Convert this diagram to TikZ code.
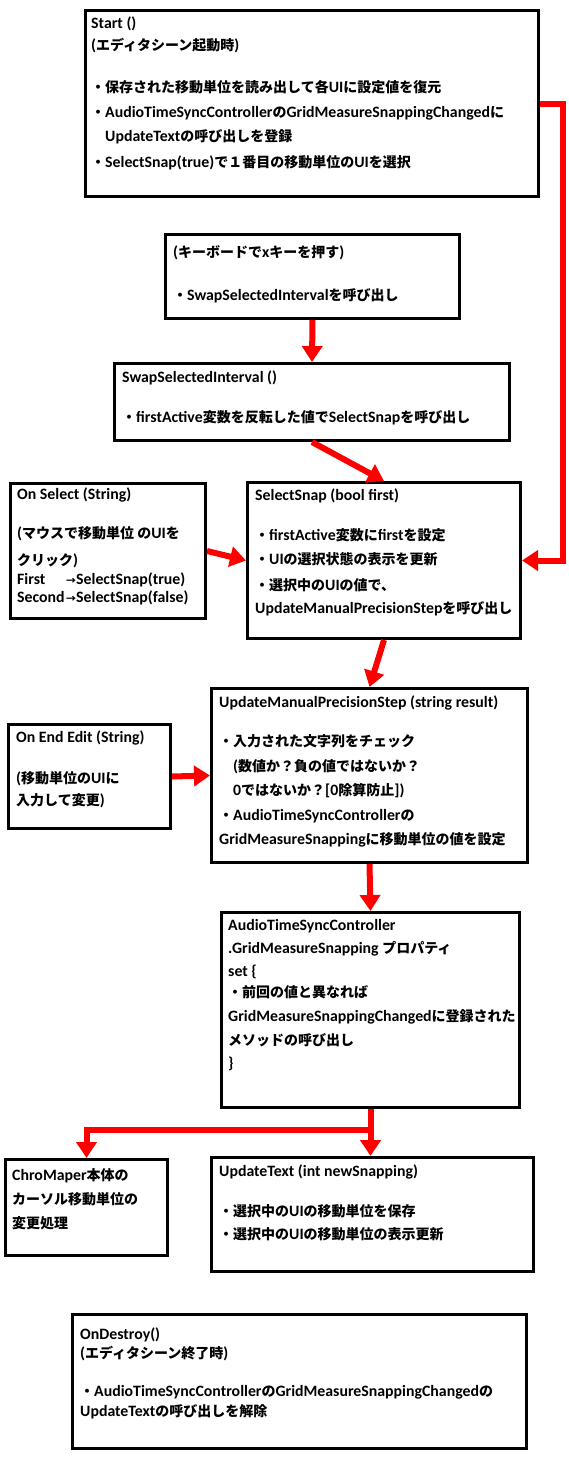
\documentclass[tikz,border=0pt]{standalone}
\usepackage{fontspec}
\setmainfont{Carlito}[Scale=1.13]
\newfontfamily\cjkfont{Noto Sans CJK JP}
\usetikzlibrary{arrows.meta}

% Japanische Zeichen mit Noto Sans CJK setzen
\XeTeXinterchartokenstate=1
\newXeTeXintercharclass\cjkclass
\newcount\cjkcode
\def\cjkrange#1#2{\cjkcode=#1
  \loop\XeTeXcharclass\cjkcode=\cjkclass
  \ifnum\cjkcode<#2 \advance\cjkcode by 1 \repeat}
\cjkrange{"3000}{"30FF}
\cjkrange{"4E00}{"9FFF}
\cjkrange{"FF00}{"FFEF}
\XeTeXcharclass"2192=\cjkclass
\XeTeXinterchartoks 0 \cjkclass = {\cjkfont}
\XeTeXinterchartoks 4095 \cjkclass = {\cjkfont}
\XeTeXinterchartoks \cjkclass 0 = {\rmfamily}
\XeTeXinterchartoks 4095 0 = {\rmfamily}

\begin{document}
\begin{tikzpicture}[x=1pt,y=-1pt,
                    box/.style={draw, line width=3pt, anchor=north west, inner sep=0pt},
                    txt/.style={anchor=base west, align=left, inner sep=0pt, font=\bfseries\fontsize{14}{24}\selectfont},
                    flow/.style={draw=red, line width=6pt, -{Triangle[length=16pt,width=20pt]}}]

                  \useasboundingbox (0,0) rectangle (569,1457);

                  % Kaesten
                  \node[box, minimum width=453, minimum height=186] (start) at (84,9) {};
                  \node[box, minimum width=294, minimum height=84] (key) at (164,233) {};
                  \node[box, minimum width=395, minimum height=77] (swap) at (113,362) {};
                  \node[box, minimum width=195, minimum height=135] (onsel) at (9,482) {};
                  \node[box, minimum width=273, minimum height=156] (snap) at (246,481) {};
                  \node[box, minimum width=316, minimum height=174] (umps) at (210,687) {};
                  \node[box, minimum width=162, minimum height=104] (onend) at (7,723) {};
                  \node[box, minimum width=298, minimum height=195] (atsc) at (220,911) {};
                  \node[box, minimum width=162, minimum height=96] (chro) at (4,1158) {};
                  \node[box, minimum width=322, minimum height=114] (uptext) at (210,1156) {};
                  \node[box, minimum width=454, minimum height=134] (ondes) at (71,1313) {};

                  % Texte (Position = Grundlinie der letzten Zeile)
                  \node[txt] (start-t) at (91,167) {Start ()\\[-2pt]
                      (エディタシーン起動時)\\[18pt]
                      ・保存された移動単位を読み出して各UIに設定値を復元\\[1pt]
                      ・AudioTimeSyncControllerのGridMeasureSnappingChangedに\\
                      　UpdateTextの呼び出しを登録\\[2pt]
                      ・SelectSnap(true)で１番目の移動単位のUIを選択};
                  \node[txt] (key-t) at (173,300) {(キーボードでxキーを押す)\\[19pt]
                      ・SwapSelectedIntervalを呼び出し};
                  \node[txt] (swap-t) at (122,422) {SwapSelectedInterval ()\\[16pt]
                      ・firstActive変数を反転した値でSelectSnapを呼び出し};
                  \node[txt] (onsel-t) at (17,602) {On Select (String)\\[15pt]
                      (マウスで移動単位 のUIを\\[3pt]
                      クリック)\\[-5pt]
                      \makebox[49pt][l]{First}{\fontsize{10}{10}\selectfont →}SelectSnap(true)\\[-6pt]
                      \makebox[49pt][l]{Second}{\fontsize{10}{10}\selectfont →}SelectSnap(false)};
                  \node[txt] (snap-t) at (255,613) {SelectSnap (bool first)\\[16pt]
                      ・firstActive変数にfirstを設定\\
                      ・UIの選択状態の表示を更新\\[2pt]
                      ・選択中のUIの値で、\\[-1pt]
                      UpdateManualPrecisionStepを呼び出し};
                  \node[txt] (umps-t) at (219,844) {UpdateManualPrecisionStep (string result)\\[15pt]
                      ・入力された文字列をチェック\\[1pt]
                      　(数値か？負の値ではないか？\\
                      　0ではないか？[0除算防止])\\[1pt]
                      ・AudioTimeSyncControllerの\\
                      GridMeasureSnappingに移動単位の値を設定};
                  \node[txt] (onend-t) at (16,805) {On End Edit (String)\\[17pt]
                      (移動単位のUIに\\[-2pt]
                      入力して変更)};
                  \node[txt] (atsc-t) at (228,1068) {AudioTimeSyncController\\[-1pt]
                      .GridMeasureSnapping プロパティ\\[-1pt]
                      set \{\\[-3pt]
                      ・前回の値と異なれば\\
                      GridMeasureSnappingChangedに登録された\\
                      メソッドの呼び出し\\[-1pt]
                      \}};
                  \node[txt] (chro-t) at (12,1228) {ChroMaper本体の\\
                      カーソル移動単位の\\
                      変更処理};
                  \node[txt] (uptext-t) at (219,1239) {UpdateText (int newSnapping)\\[16pt]
                      ・選択中のUIの移動単位を保存\\[-1pt]
                      ・選択中のUIの移動単位の表示更新};
                  \node[txt] (ondes-t) at (80,1416) {OnDestroy()\\[-5pt]
                      (エディタシーン終了時)\\[14pt]
                      ・AudioTimeSyncControllerのGridMeasureSnappingChangedの\\[-4pt]
                      UpdateTextの呼び出しを解除};

                  % Pfeile
                  \draw[flow] (start.east) -- ++(23,0) |- (snap.east);
                  \draw[flow] (key.south) -- (swap.north);
                  \draw[flow] (swap.south) -- (snap.north);
                  \draw[flow] (onsel.east) -- (snap.west);
                  \draw[flow] (snap.south) -- (umps.north);
                  \draw[flow] (onend.east) -- (umps.west);
                  \draw[flow] (umps.south) -- (atsc.north);
                  \coordinate (split) at ([yshift=-21pt]atsc.south);
                  \draw[flow] (atsc.south) -- (split) -| (chro.north);
                  \draw[flow] (split) -- (split |- uptext.north);
\end{tikzpicture}
\end{document}
